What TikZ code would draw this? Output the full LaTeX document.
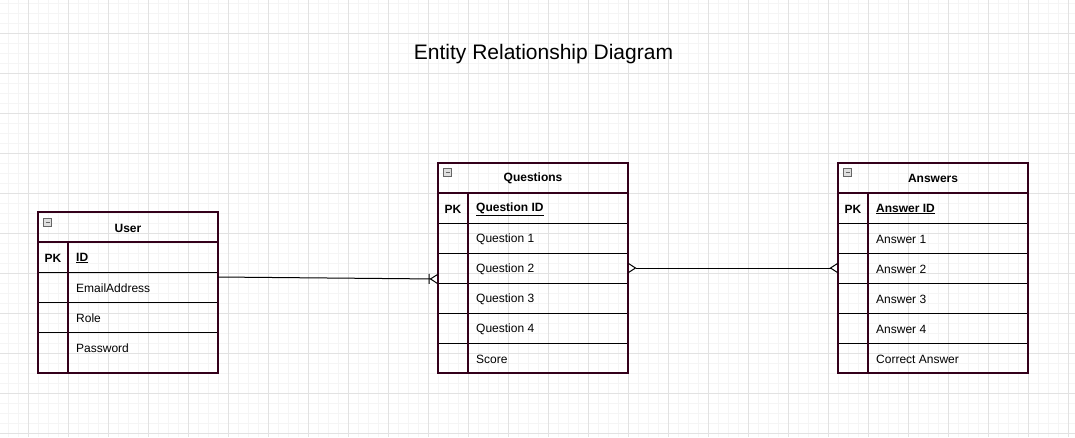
\documentclass[tikz,border=0pt]{standalone}
\usepackage{fontspec}
\setmainfont{Liberation Sans}
\usetikzlibrary{arrows.meta}
\definecolor{erborder}{HTML}{33001A}
\definecolor{gridmajor}{HTML}{E2E2E2}
\definecolor{gridminor}{HTML}{F5F5F5}

\begin{document}
\begin{tikzpicture}[x=1pt,y=-1pt,
  majorgrid/.style={draw=gridmajor,line width=1pt},
  minorgrid/.style={draw=gridminor,line width=1pt},
  entity/.style={draw=erborder,line width=2.8pt,anchor=north west,inner sep=0pt,outer sep=0pt},
  divider/.style={draw=erborder,line width=2.8pt},
  rowline/.style={draw=black,line width=1pt},
  field/.style={anchor=west,inner sep=0pt,font=\fontsize{12}{14}\selectfont},
  keytag/.style={inner sep=0pt,font=\fontsize{12}{14}\selectfont\bfseries},
  heading/.style={inner sep=0pt,font=\fontsize{12}{14}\selectfont\bfseries},
  toggle/.style={draw=gray!80!black,fill=gray!25,minimum size=8pt,inner sep=0pt,line width=0.7pt,
    path picture={\draw[line width=1pt] ([xshift=2pt]path picture bounding box.west)
      -- ([xshift=-2pt]path picture bounding box.east);}},
  relation/.style={draw=black,line width=1pt}]
\useasboundingbox (0,0) rectangle (1075,437);
\fill[white] (0,0) rectangle (1075,437);
\foreach \x in {8,18,...,1068} \draw[minorgrid] (\x,0) -- (\x,437);
\foreach \y in {3,13,...,433} \draw[minorgrid] (0,\y) -- (1075,\y);
\foreach \x in {28,68,...,1068} \draw[majorgrid] (\x,0) -- (\x,437);
\foreach \y in {33,73,...,433} \draw[majorgrid] (0,\y) -- (1075,\y);

\node (title) at (543.5,54) {\fontsize{21}{24}\selectfont Entity Relationship Diagram};

\foreach \y in {272,302,332} \draw[rowline] (38,\y) -- (218,\y);
\draw[divider] (38,242) -- (218,242);
\draw[divider] (68,242) -- (68,373);
\node[entity,minimum width=180pt,minimum height=161pt] (user) at (38,212) {};
\node[toggle] (user-toggle) at (47.5,222) {};
\node[heading] (user-title) at (128,228.5) {User};
\node[keytag] (user-pk) at (53,258) {PK};
\node[field] (user-id) at (76,258) {\textbf{\underline{ID}}};
\foreach \t [count=\i] in {EmailAddress,Role,Password}
  \node[field] (u\i) at (76,258+30*\i) {\t};

\foreach \y in {223,253,...,343} \draw[rowline] (438,\y) -- (628,\y);
\draw[divider] (438,193) -- (628,193);
\draw[divider] (468,193) -- (468,373);
\node[entity,minimum width=190pt,minimum height=210pt] (questions) at (438,163) {};
\node[toggle] (questions-toggle) at (447.5,172.5) {};
\node[heading] (questions-title) at (533,178.5) {Questions};
\node[keytag] (questions-pk) at (453,209) {PK};
\node[field] (questions-id) at (476,209) {\textbf{\underline{Question ID}}};
\foreach \t [count=\i] in {Question 1,Question 2,Question 3,Question 4,Score}
  \node[field] (q\i) at (476,209+30*\i) {\t};

\foreach \y in {223,253,...,343} \draw[rowline] (838,\y) -- (1028,\y);
\draw[divider] (838,193) -- (1028,193);
\draw[divider] (868,193) -- (868,373);
\node[entity,minimum width=190pt,minimum height=210pt] (answers) at (838,163) {};
\node[toggle] (answers-toggle) at (847.5,172.5) {};
\node[heading] (answers-title) at (933,178.5) {Answers};
\node[keytag] (answers-pk) at (853,209) {PK};
\node[field] (answers-id) at (876,209) {\textbf{\underline{Answer ID}}};
\foreach \t [count=\i] in {Answer 1,Answer 2,Answer 3,Answer 4,Correct Answer}
  \node[field] (a\i) at (876,209+30*\i) {\t};

\draw[relation,-{Bar[width=10pt] Straight Barb[reversed,length=7pt,width=9pt]}]
  ([yshift=15.5pt]user.east) -- ([yshift=-11pt]questions.west);
\draw[relation,{Straight Barb[reversed,length=7pt,width=9pt]}-{Straight Barb[reversed,length=7pt,width=9pt]}]
  ([yshift=1pt]questions.east |- q2) -- ([yshift=1pt]answers.west |- a2);
\end{tikzpicture}
\end{document}
